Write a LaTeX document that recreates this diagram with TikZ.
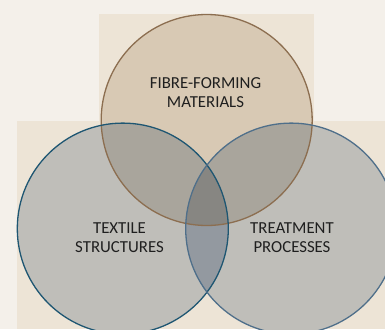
\documentclass[tikz,border=0pt]{standalone}
\usepackage{fontspec}
\setmainfont{Carlito}
\definecolor{page}{HTML}{F4F0EA}
\definecolor{panel}{HTML}{EDE4D6}
\definecolor{fibrefill}{HTML}{D8C9B4}
\definecolor{greyfill}{HTML}{BFBEB9}
\definecolor{fibregrey}{HTML}{A9A59C}
\definecolor{bluegrey}{HTML}{9399A0}
\definecolor{middle}{HTML}{878682}
\definecolor{fibreline}{HTML}{8C6E50}
\definecolor{textileline}{HTML}{1E5672}
\definecolor{processline}{HTML}{4F6F8A}
\begin{document}
\begin{tikzpicture}[
x=1pt, y=-1pt,
ring/.style={circle,draw,line width=1.3pt,minimum size=211pt,inner sep=0pt},
caption/.style={font=\fontsize{16.8}{19}\selectfont,align=center,text=black!88}
]
\useasboundingbox (0,0) rectangle (385,329);
\fill[page] (0,0) rectangle (385,329);
\fill[panel] (99,14) rectangle (314,122);
\fill[panel] (17,121) rectangle (385,329);
% circle centres
\coordinate (fc) at (206.7,120);
\coordinate (tc) at (122.8,228.6);
\coordinate (pc) at (291.2,228.6);
\fill[fibrefill] (fc) circle (105.5pt);
\fill[greyfill] (tc) circle (105.5pt);
\fill[greyfill] (pc) circle (105.5pt);
% overlaps
\begin{scope}
\clip (fc) circle (105.5pt);
\fill[fibregrey] (tc) circle (105.5pt);
\fill[fibregrey] (pc) circle (105.5pt);
\end{scope}
\begin{scope}
\clip (tc) circle (105.5pt);
\fill[bluegrey] (pc) circle (105.5pt);
\clip (pc) circle (105.5pt);
\fill[middle] (fc) circle (105.5pt);
\end{scope}
% outlines
\node[ring,draw=fibreline] (fibre) at (fc) {};
\node[ring,draw=textileline] (textile) at (tc) {};
\node[ring,draw=processline] (process) at (pc) {};
% labels
\node[caption] (fibrelabel) at (205.5,92.5) {FIBRE-FORMING\\MATERIALS};
\node[caption] (textilelabel) at (119.5,237.5) {TEXTILE\\STRUCTURES};
\node[caption] (processlabel) at (292,237.5) {TREATMENT\\PROCESSES};
\end{tikzpicture}
\end{document}
